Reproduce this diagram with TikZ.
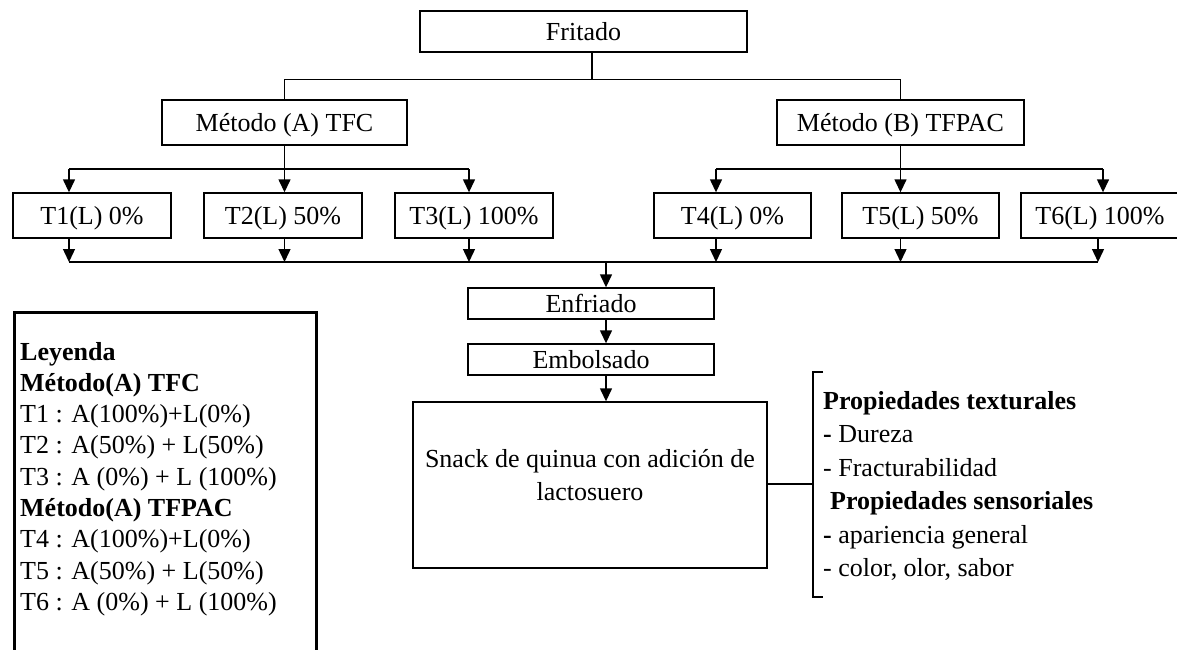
\documentclass[tikz,border=0pt]{standalone}
\usepackage{fontspec}
\setmainfont{Liberation Serif}
\usetikzlibrary{arrows.meta}
\begin{document}
\begin{tikzpicture}[x=1pt,y=-1pt,
  every node/.style={font=\fontsize{26}{31}\selectfont},
  box/.style={draw, line width=1.4pt, inner sep=0pt, text height=17.2pt, text depth=0pt},
  link/.style={line width=1.4pt},
  flow/.style={line width=1.4pt, -{Triangle[length=13pt,width=12pt]}},
  txt/.style={anchor=base west, inner sep=0pt},
  ctxt/.style={anchor=base, inner sep=0pt}]
\useasboundingbox (0,0) rectangle (1177,649);

% main process boxes
\node[box, minimum width=327pt, minimum height=41pt] (fr) at (583.5,31.5) {Fritado};
\node[box, minimum width=245pt, minimum height=45pt] (ma) at (284.5,122.5) {Método (A) TFC};
\node[box, minimum width=247pt, minimum height=45pt] (mb) at (900.5,122.5) {Método (B) TFPAC};

\node[box, minimum width=158pt, minimum height=45pt] (t1) at (92,215.5) {T1(L) 0\%};
\node[box, minimum width=158pt, minimum height=45pt] (t2) at (283,215.5) {T2(L) 50\%};
\node[box, minimum width=158pt, minimum height=45pt] (t3) at (474,215.5) {T3(L) 100\%};
\node[box, minimum width=157pt, minimum height=45pt] (t4) at (732.5,215.5) {T4(L) 0\%};
\node[box, minimum width=157pt, minimum height=45pt] (t5) at (920.5,215.5) {T5(L) 50\%};
\node[box, minimum width=158pt, minimum height=45pt] (t6) at (1100,215.5) {T6(L) 100\%};

\node[box, minimum width=246pt, minimum height=31pt] (en) at (591,303.5) {Enfriado};
\node[box, minimum width=246pt, minimum height=31pt] (em) at (591,359.5) {Embolsado};

\node[draw, line width=1.4pt, inner sep=0pt, minimum width=354pt, minimum height=166pt] (sn) at (590,485) {};
\node[ctxt] (sn1) at (590,467) {Snack de quinua con adición de};
\node[ctxt] (sn2) at (590,500) {lactosuero};

% junction points
\coordinate (j0) at (592,80);
\coordinate (a1) at (69,169);
\coordinate (a3) at (469,169);
\coordinate (b1) at (716,169);
\coordinate (b3) at (1103,169);
\coordinate (m0) at (69,262);
\coordinate (m6) at (1098,262);
\coordinate (m) at (606,262);
\coordinate (br) at (813,484);

% Fritado to both methods
\draw[link] (fr.south -| j0) -- (j0);
\draw[link] (ma.north) -- ++(0,-20) -| (mb.north);

% method A branches
\draw[link] (ma.south) -- (ma.south |- a1);
\draw[link] (a1) -- (a3);
\draw[flow] (a1) -- (a1 |- t1.north);
\draw[flow] (ma.south |- a1) -- (ma.south |- t2.north);
\draw[flow] (a3) -- (a3 |- t3.north);

% method B branches
\draw[link] (mb.south) -- (mb.south |- b1);
\draw[link] (b1) -- (b3);
\draw[flow] (b1) -- (b1 |- t4.north);
\draw[flow] (mb.south |- b1) -- (mb.south |- t5.north);
\draw[flow] (b3) -- (b3 |- t6.north);

% treatments merge
\draw[flow] (a1 |- t1.south) -- (m0);
\draw[flow] (ma.south |- t2.south) -- (ma.south |- m0);
\draw[flow] (a3 |- t3.south) -- (a3 |- m0);
\draw[flow] (b1 |- t4.south) -- (b1 |- m0);
\draw[flow] (mb.south |- t5.south) -- (mb.south |- m0);
\draw[flow] (m6 |- t6.south) -- (m6);
\draw[link] (m0) -- (m6);

% downstream steps
\draw[flow] (m) -- (m |- en.north);
\draw[flow] (m |- en.south) -- (m |- em.north);
\draw[flow] (m |- em.south) -- (m |- sn.north);

% properties bracket
\draw[link] (sn.east |- br) -- (br);
\draw[link] (823,372) -- (813,372) -- (813,597) -- (823,597);
\node[txt] (p1) at (823,409) {\textbf{Propiedades texturales}};
\node[txt] (p2) at (823,442.5) {\textbf{-} Dureza};
\node[txt] (p3) at (823,476) {- Fracturabilidad};
\node[txt] (p4) at (830,509.5) {\textbf{Propiedades sensoriales}};
\node[txt] (p5) at (823,543) {\textbf{-} apariencia general};
\node[txt] (p6) at (823,576.5) {- color, olor, sabor};

% legend
\draw[line width=3pt] (14,660) -- (14,312) -- (316,312) -- (316,660);
\node[txt] (l1) at (20,360) {\textbf{Leyenda}};
\node[txt] (l2) at (20,391.3) {\textbf{Método(A) TFC}};
\node[txt] (l3) at (20,422.6) {T1 : A(100\%)+L(0\%)};
\node[txt] (l4) at (20,453.9) {T2 : A(50\%) + L(50\%)};
\node[txt] (l5) at (20,485.2) {T3 : A (0\%) + L (100\%)};
\node[txt] (l6) at (20,516.5) {\textbf{Método(A) TFPAC}};
\node[txt] (l7) at (20,547.8) {T4 : A(100\%)+L(0\%)};
\node[txt] (l8) at (20,579.1) {T5 : A(50\%) + L(50\%)};
\node[txt] (l9) at (20,610.4) {T6 : A (0\%) + L (100\%)};
\end{tikzpicture}
\end{document}
